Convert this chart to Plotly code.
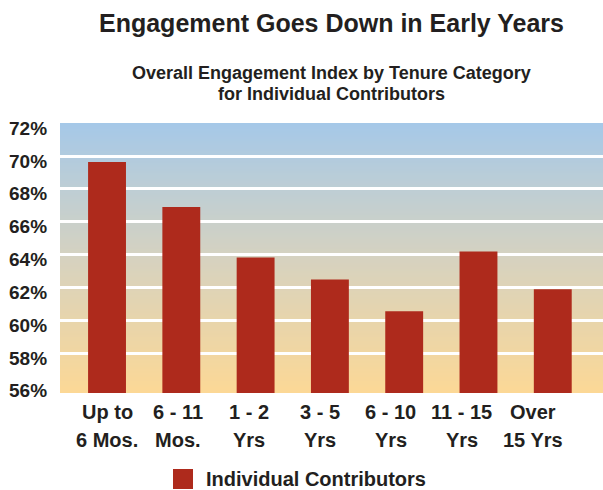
import plotly.graph_objects as go

# ---- data ----
categories = ["Up to 6 Mos.", "6 - 11 Mos.", "1 - 2 Yrs", "3 - 5 Yrs", "6 - 10 Yrs", "11 - 15 Yrs", "Over 15 Yrs"]
label_line1 = ["Up to", "6 - 11", "1 - 2", "3 - 5", "6 - 10", "11 - 15", "Over"]
label_line2 = ["6 Mos.", "Mos.", "Yrs", "Yrs", "Yrs", "Yrs", "15 Yrs"]
engagement = [69.64, 66.9, 63.82, 62.48, 60.55, 64.18, 61.88]
series_name = "Individual Contributors"
y_tick_vals = [56, 58, 60, 62, 64, 66, 68, 70, 72]
y_tick_text = ["56%", "58%", "60%", "62%", "64%", "66%", "68%", "70%", "72%"]
grid_vals = [58, 60, 62, 64, 66, 68, 70]

TITLE = "Engagement Goes Down in Early Years"
SUBTITLE_LINES = ["Overall Engagement Index by Tenure Category", "for Individual Contributors"]

BAR_COLOR = "#ae2a1c"
TEXT_COLOR = "#231f20"
FONT = "Arial, Liberation Sans, sans-serif"

fig = go.Figure()
fig.add_trace(go.Bar(
    x=categories, y=engagement, name=series_name,
    marker=dict(color=BAR_COLOR, line=dict(width=0)),
    width=0.51, showlegend=False,
))

# gradient background (bands)
stops = [(0.0, (252, 216, 150)), (0.25, (233, 213, 170)), (0.5, (214, 210, 192)),
         (0.75, (190, 206, 212)), (1.0, (165, 200, 232))]

def color_at(t):
    for (t0, c0), (t1, c1) in zip(stops[:-1], stops[1:]):
        if t0 <= t <= t1:
            f = (t - t0) / (t1 - t0)
            return "rgb(%d,%d,%d)" % tuple(round(a + (b - a) * f) for a, b in zip(c0, c1))
    return "rgb(%d,%d,%d)" % stops[-1][1]

N = 135
shapes = []
for i in range(N):
    y0 = i / N
    y1 = min(1.0, (i + 1) / N + 0.004)
    shapes.append(dict(type="rect", xref="x domain", yref="y domain", x0=0, x1=1, y0=y0, y1=y1,
                       fillcolor=color_at((i + 0.5) / N), line=dict(width=0), layer="below"))

# manual legend swatch
shapes.append(dict(type="rect", xref="paper", yref="paper", x0=0.2081, x1=0.2449,
                   y0=-0.3556, y1=-0.2815, fillcolor=BAR_COLOR, line=dict(width=0)))

annotations = []
# y tick labels
for v, t in zip(y_tick_vals, y_tick_text):
    annotations.append(dict(x=0, xref="paper", y=v, yref="y", text="<b>%s</b>" % t,
                            xanchor="right", yanchor="middle", xshift=-11, yshift=-5,
                            showarrow=False, font=dict(family=FONT, size=19, color=TEXT_COLOR)))
# x category labels (two lines)
for i, (c, l1, l2) in enumerate(zip(categories, label_line1, label_line2)):
    xs = -3.3 * i
    annotations.append(dict(x=c, xref="x", y=-0.0704, yref="paper", text="<b>%s</b>" % l1,
                            xanchor="center", yanchor="middle", xshift=xs, showarrow=False,
                            font=dict(family=FONT, size=20, color=TEXT_COLOR)))
    annotations.append(dict(x=c, xref="x", y=-0.174, yref="paper", text="<b>%s</b>" % l2,
                            xanchor="center", yanchor="middle", xshift=xs, showarrow=False,
                            font=dict(family=FONT, size=20, color=TEXT_COLOR)))
# subtitle (two lines)
for line, yp in zip(SUBTITLE_LINES, [1.1852, 1.1074]):
    annotations.append(dict(x=0.5, xref="paper", y=yp, yref="paper",
                            text="<b>%s</b>" % line, showarrow=False, xanchor="center",
                            yanchor="middle", font=dict(family=FONT, size=18, color=TEXT_COLOR)))
# legend text
annotations.append(dict(x=0.2652, xref="paper", y=-0.318, yref="paper",
                        text="<b>%s</b>" % series_name, showarrow=False, xanchor="left",
                        yanchor="middle", font=dict(family=FONT, size=20, color=TEXT_COLOR)))

fig.update_layout(
    width=603, height=490,
    margin=dict(l=60, r=0, t=123, b=97),
    paper_bgcolor="white", plot_bgcolor="white",
    title=dict(text="<b>%s</b>" % TITLE, x=0.5, xref="paper", xanchor="center",
               y=1 - 23 / 490, yref="container", yanchor="middle",
               font=dict(family=FONT, size=25, color=TEXT_COLOR)),
    xaxis=dict(range=[-0.633, 6.676], showticklabels=False, showgrid=False,
               zeroline=False, showline=False, ticks="", fixedrange=True),
    yaxis=dict(range=[55.57, 72.01], tickvals=grid_vals, showticklabels=False,
               showgrid=True, gridcolor="white", gridwidth=2.5, zeroline=False,
               showline=False, ticks="", fixedrange=True),
    shapes=shapes,
    annotations=annotations,
    font=dict(family=FONT, color=TEXT_COLOR),
)

fig.write_html("out.html", config={"displayModeBar": False},
               post_script="document.body.style.margin='0';document.body.style.overflow='hidden';")
